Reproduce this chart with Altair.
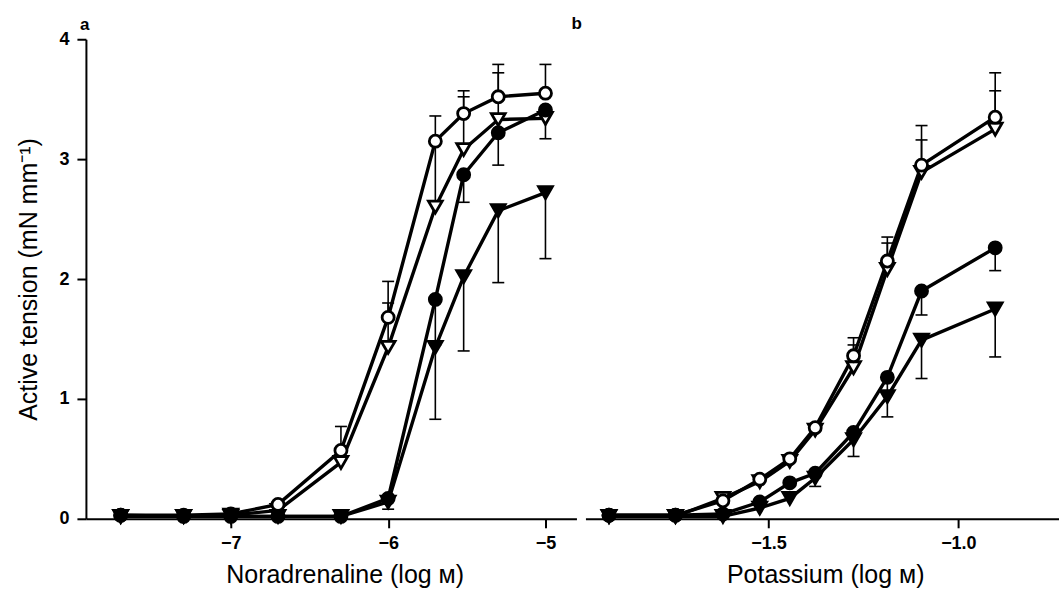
import altair as alt
import pandas as pd

# Draw order: open symbols first, filled symbols on top
SERIES = ["ot", "oc", "ft", "fc"]
STYLE = {
    "ot": ("triangle-down", "white", 190),
    "oc": ("circle", "white", 145),
    "ft": ("triangle-down", "black", 190),
    "fc": ("circle", "black", 145),
}

# ---- Panel a: noradrenaline (log M) ----
na_x = [-7.7, -7.3, -7.0, -6.7, -6.3, -6.0, -5.7, -5.52, -5.3, -5.0]
na_oc = [0.03, 0.03, 0.04, 0.12, 0.57, 1.68, 3.15, 3.38, 3.52, 3.55]
na_ot = [0.02, 0.02, 0.03, 0.07, 0.47, 1.43, 2.60, 3.08, 3.33, 3.34]
na_fc = [0.03, 0.02, 0.02, 0.02, 0.02, 0.17, 1.83, 2.87, 3.22, 3.41]
na_ft = [0.02, 0.02, 0.02, 0.02, 0.02, 0.14, 1.43, 2.02, 2.57, 2.72]

na_oc_err_x = [-6.3, -6.0, -5.7, -5.52, -5.3, -5.0]
na_oc_err = [0.77, 1.98, 3.36, 3.57, 3.79, 3.79]
na_ot_err_x = [-6.0, -5.7, -5.52, -5.3]
na_ot_err = [1.80, 3.14, 3.52, 3.72]
na_fc_err_x = [-6.0, -5.7, -5.52, -5.3, -5.0]
na_fc_err = [0.08, 1.45, 2.64, 2.95, 3.17]
na_ft_err_x = [-5.7, -5.52, -5.3, -5.0]
na_ft_err = [0.83, 1.40, 1.97, 2.17]

# ---- Panel b: potassium (log M) ----
k_x = [-1.92, -1.745, -1.62, -1.523, -1.444, -1.377, -1.276, -1.187, -1.097, -0.903]
k_oc = [0.03, 0.03, 0.15, 0.33, 0.50, 0.76, 1.36, 2.15, 2.95, 3.35]
k_ot = [0.02, 0.02, 0.17, 0.31, 0.48, 0.74, 1.26, 2.08, 2.89, 3.25]
k_fc = [0.03, 0.03, 0.04, 0.14, 0.30, 0.38, 0.72, 1.18, 1.90, 2.26]
k_ft = [0.02, 0.02, 0.02, 0.09, 0.17, 0.34, 0.66, 1.02, 1.49, 1.75]

k_oc_err_x = [-1.276, -1.187, -1.097, -0.903]
k_oc_err = [1.51, 2.35, 3.28, 3.72]
k_ot_err_x = [-1.276, -1.187, -1.097, -0.903]
k_ot_err = [1.45, 2.30, 3.16, 3.57]
k_fc_err_x = [-1.187, -1.097, -0.903]
k_fc_err = [1.05, 1.70, 2.07]
k_ft_err_x = [-1.377, -1.276, -1.187, -1.097, -0.903]
k_ft_err = [0.27, 0.52, 0.85, 1.17, 1.35]

FONT = "Liberation Sans"


def build_frames(xs, means, errs):
    rows = []
    for s in SERIES:
        for x, y in zip(xs, means[s]):
            rows.append({"x": x, "y": y, "s": s})
    bars, caps = [], []
    for s in SERIES:
        ex, ev = errs[s]
        for x, e in zip(ex, ev):
            m = means[s][xs.index(x)]
            bars.append({"x": x, "y": m, "y2": e})
            caps.append({"x": x, "y": e})
    return pd.DataFrame(rows), pd.DataFrame(bars), pd.DataFrame(caps)


def panel(xs, means, errs, domain, ticks, fmt, title, title_x, width,
          letter, letter_dx, letter_offset, show_y):
    pts, bars, caps = build_frames(xs, means, errs)
    xaxis = alt.Axis(values=ticks, format=fmt, title=title, titleX=title_x,
                     tickSize=9, labelPadding=7, titlePadding=10)
    x = alt.X("x:Q", scale=alt.Scale(domain=domain, nice=False, zero=False),
              axis=xaxis)
    if show_y:
        yaxis = alt.Axis(values=[0, 1, 2, 3, 4], format="d",
                         title="Active tension (mN mm⁻¹)",
                         tickSize=9, labelPadding=8, titlePadding=17)
    else:
        yaxis = None
    y = alt.Y("y:Q", scale=alt.Scale(domain=[0, 4], nice=False), axis=yaxis)

    layers = [
        alt.Chart(pts).mark_line(color="black", strokeWidth=3.4).encode(
            x=x, y=y, detail="s:N"),
        alt.Chart(bars).mark_rule(color="black", strokeWidth=1.6).encode(
            x=x, y=y, y2="y2:Q"),
        alt.Chart(caps).mark_tick(color="black", orient="horizontal",
                                  size=12, thickness=1.6, opacity=1).encode(
            x=x, y=y),
    ]
    for s in SERIES:
        shape, fill, size = STYLE[s]
        layers.append(
            alt.Chart(pts[pts["s"] == s]).mark_point(
                shape=shape, size=size, fill=fill, filled=True,
                stroke="black", strokeWidth=2.8, opacity=1
            ).encode(x=x, y=y)
        )
    return alt.layer(*layers).properties(
        width=width, height=480,
        title=alt.TitleParams(letter, anchor="start", frame="group",
                              dx=letter_dx, offset=letter_offset,
                              baseline="alphabetic",
                              font=FONT, fontSize=17, fontWeight="bold",
                              color="black"),
    )


na_means = {"oc": na_oc, "ot": na_ot, "fc": na_fc, "ft": na_ft}
na_errs = {"oc": (na_oc_err_x, na_oc_err), "ot": (na_ot_err_x, na_ot_err),
           "fc": (na_fc_err_x, na_fc_err), "ft": (na_ft_err_x, na_ft_err)}
k_means = {"oc": k_oc, "ot": k_ot, "fc": k_fc, "ft": k_ft}
k_errs = {"oc": (k_oc_err_x, k_oc_err), "ot": (k_ot_err_x, k_ot_err),
          "fc": (k_fc_err_x, k_fc_err), "ft": (k_ft_err_x, k_ft_err)}

panel_a = panel(na_x, na_means, na_errs, [-7.921, -4.803], [-7, -6, -5], "d",
                "Noradrenaline (log м)", 259, 491, "a", -6, -17, True)
panel_b = panel(k_x, k_means, k_errs, [-1.982, -0.735], [-1.5, -1.0], ".1f",
                "Potassium (log м)", 240, 474, "b", -14, -7, False)

chart = alt.hconcat(panel_a, panel_b, spacing=9, bounds="flush").properties(
    padding={"left": 16, "top": 15, "right": 0, "bottom": 0},
    background="white",
).configure_view(stroke=None).configure_axis(
    grid=False,
    domainColor="black", domainWidth=2,
    tickColor="black", tickWidth=2,
    labelFont=FONT, labelFontSize=18, labelFontWeight="bold", labelColor="black",
    titleFont=FONT, titleFontSize=25, titleFontWeight="normal", titleColor="black",
)

chart.save("out.html", embed_options={"renderer": "svg", "actions": False})
